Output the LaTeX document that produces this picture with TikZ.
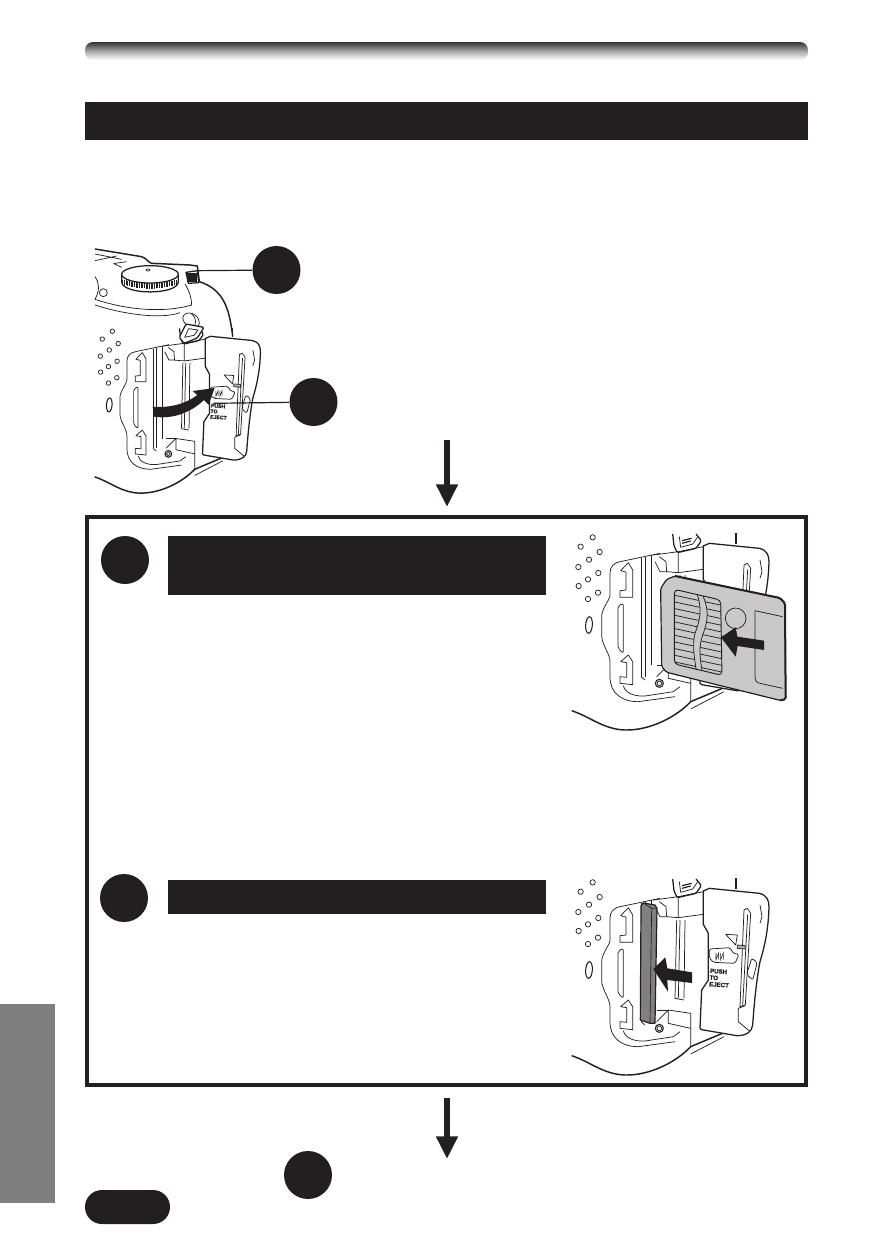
\documentclass[tikz,border=0pt]{standalone}
\usepackage{fontspec}
\setmainfont{Liberation Sans}
\usetikzlibrary{arrows.meta}
\definecolor{ink}{HTML}{231F20}
\definecolor{tabgrey}{HTML}{7F7E7E}
\definecolor{cardgrey}{HTML}{C9C9C9}
\definecolor{bargrey}{HTML}{808080}
\newfontfamily\ejectfont[FakeBold=1.6]{Liberation Sans Bold}
\tikzset{
  disc/.style={circle,fill=ink,draw=none,minimum size=36pt,inner sep=0pt},
  thin line/.style={draw=ink,line width=0.55pt,line join=round},
  body line/.style={draw=ink,line width=0.95pt,line join=round},
  leader/.style={draw=ink,line width=0.9pt},
  flow arrow/.style={draw=ink,line width=5.2pt,-{Triangle[length=17pt,width=15.5pt]}},
  ejecttext/.style={font=\ejectfont\fontsize{4.6}{5}\selectfont,align=left,inner sep=0pt,text=ink}
}
\newcommand{\cambase}{%
  % speaker dots
  \foreach \px/\py in {98/52,62/80,119/96,87/119,55/141,115/159,84/178,56/198,114/218,84/237}
    {\draw[thin line] (\px,\py) circle (8);}
  % oval
  \draw[thin line,line width=0.8pt,rotate around={-4:(87,315)}] (87,315) ellipse (10 and 25);
  % grip outer
  \draw[thin line] (300,100) -- (185,124) .. controls (160,128) and (150,140) .. (150,160) -- (150,225)
     .. controls (150,240) and (125,265) .. (125,290) -- (125,345) .. controls (125,375) and (150,400) .. (150,425)
     -- (150,470) .. controls (150,520) and (185,545) .. (235,545) -- (345,530);
  % inner bottom
  \draw[thin line] (190,497) .. controls (195,520) and (225,530) .. (255,528) -- (340,515) -- (360,500);
  % top notch
  \draw[thin line] (182,152) -- (205,128) -- (218,150) -- (218,232) -- (180,232) -- (180,212) -- (198,210) -- (198,156) -- cycle;
  % bottom notch
  \draw[thin line] (182,425) -- (205,405) -- (218,425) -- (218,494) -- (180,490) -- (180,470) -- (200,472) -- (200,428) -- cycle;
  % long capsule
  \draw[thin line,rounded corners=1.5pt] (174,258) -- (190,250) -- (190,400) -- (174,385) -- cycle;
  % slot lines
  \draw[thin line] (245,115) -- (245,470) (255,112) -- (255,470) (275,105) -- (275,435);
  \draw[thin line] (243,470) -- (255,480);
  % lug block
  \draw[thin line] (280,105) -- (355,95) -- (355,158) -- (320,155) -- (318,125) -- (298,110);
  \draw[thin line] (285,125) -- (300,155) -- (320,155);
  % right upper wall
  \draw[thin line] (355,95) -- (430,80) (355,158) -- (430,148);
  % rod
  \draw[thin line] (350,165) -- (345,400) (360,165) -- (355,400) (375,165) -- (372,400);
  \draw[thin line] (345,400) -- (372,405);
  % lower block
  \draw[thin line] (290,470) -- (325,435) -- (392,445) -- (392,545) (325,435) -- (325,475) -- (392,490);
  \draw[thin line] (325,435) -- (290,435);
  % screw
  \draw[thin line,line width=0.8pt] (298,490) circle (12);
  \draw[thin line] (298,490) circle (7);
  % strap lug
  \draw[body line,rounded corners=1pt] (338,42) -- (342,78) -- (352,98) -- (408,85) -- (424,62) -- (408,42);
  \draw[thin line] (358,50) -- (362,82) -- (398,72) -- (412,52);
  \draw[ink,line width=0.9pt] (366,62) -- (395,55) (366,70) -- (392,63);
  % camera outer bottom
  \draw[body line,line width=1.1pt] (35,572) .. controls (90,590) and (130,628) .. (195,630)
     .. controls (270,632) and (350,590) .. (392,545) -- (492,503);
  \draw[thin line] (392,567) -- (492,515);
  % right back line
  \draw[body line] (528,40) -- (528,72);
}
\newcommand{\camdoor}[1]{%
  \filldraw[fill=white,body line] (430,78) -- (448,70) -- (598,85) .. controls (620,90) and (627,105) .. (627,125)
     .. controls (625,200) and (612,250) .. (600,290) .. controls (590,340) and (582,420) .. (578,480)
     .. controls (576,500) and (560,512) .. (530,512) -- (425,494) -- (420,490) -- (425,375) -- (445,345)
     -- (445,205) -- (430,178) -- cycle;
  \draw[thin line] (600,120) -- (606,155) -- (600,175);
  % pin
  \draw[thin line] (552,135) -- (562,130) -- (572,145) -- (556,420) -- (540,425) -- cycle;
  \draw[thin line] (563,148) -- (548,422);
  % latch
  \filldraw[fill=white,thin line] (497,208) -- (532,210) -- (527,240) -- cycle;
  \filldraw[fill=bargrey!60,thin line] (532,240) -- (556,242) -- (556,252) -- (532,250) -- cycle;
  % label
  \filldraw[fill=white,thin line,rounded corners=1.2pt] (448,252) -- (510,248) -- (520,265) -- (537,268) -- (525,295) -- (460,292) -- (448,278) -- cycle;
  \draw[ink,line width=0.45pt] (468,264) -- (468,284) -- (476,264) -- (476,284) (482,264) -- (482,284) -- (490,264) -- (490,284);
  % lower hook
  \draw[thin line] (535,430) -- (535,470) -- (567,497) (535,430) -- (556,422);
  % side slot
  \draw[thin line,rounded corners=1.5pt] (575,280) -- (592,292) -- (578,345) -- (560,328) -- cycle;
  \node[ejecttext,rotate=-4,anchor=north west,scale=#1] (pushlabel) at (450,310) {PUSH\\TO\\EJECT};
}
\begin{document}
\begin{tikzpicture}[x=0.75pt,y=-0.75pt]
\useasboundingbox (0,0) rectangle (891,1257);
\fill[white] (0,0) rectangle (891,1257);
% header bars
\shade[top color=black!80,bottom color=white,middle color=black!35,rounded corners=6pt] (85,42) rectangle (808,60);
\fill[ink] (85,102) rectangle (808,140);
% side tab and pill
\fill[tabgrey] (0,1004) rectangle (55,1203);
\fill[ink,rounded corners=12.7pt] (85,1190) rectangle (170,1224);

% ---- first illustration
\begin{scope}[shift={(84.9,316.7)},scale=0.28]
  \cambase
  \camdoor{0.84}
\end{scope}
\begin{scope}[shift={(80,240)},scale=1/3]
  % top outline
  \draw[body line,line width=1.1pt] (45,27) -- (185,50) .. controls (200,55) and (205,68) .. (215,70) -- (330,75) -- (352,78)
     -- (358,125) .. controls (375,130) and (395,140) .. (410,155) .. controls (440,185) and (450,225) .. (458,288);
  \draw[thin line] (45,62) -- (110,48) (45,42) -- (125,58) (100,70) -- (125,82) (105,70) -- (140,65);
  \draw[thin line] (45,110) .. controls (58,130) and (60,150) .. (45,178);
  \draw[thin line] (70,158) circle (12);
  \draw[thin line] (45,178) .. controls (110,200) and (230,225) .. (335,195) .. controls (335,180) and (330,155) .. (315,132);
  \draw[thin line] (45,195) .. controls (120,220) and (240,240) .. (300,218);
  % dial
  \filldraw[fill=white,body line] (125,103) -- (125,128) .. controls (135,165) and (285,165) .. (295,128) -- (295,103) -- cycle;
  \foreach \kx in {128,133,...,292}
    {\draw[ink,line width=0.75pt] (\kx,{118+(1-((\kx-210)/85)*((\kx-210)/85))*12}) -- (\kx,{132+(1-((\kx-210)/85)*((\kx-210)/85))*14});}
  \filldraw[fill=white,body line] (210,103) ellipse (85 and 26);
  \draw[thin line] (204,90) ellipse (6 and 3);
  % side button
  \filldraw[fill=white,body line] (318,97) -- (352,92) -- (356,128) -- (325,130) -- cycle;
  \foreach \bx in {324,330,336,342,348}
    {\draw[ink,line width=0.9pt] (\bx,100) -- (\bx,126);}
  % strap ring and knob
  \filldraw[fill=white,thin line] (315,250) .. controls (295,225) and (325,210) .. (345,225) .. controls (365,240) and (360,262) .. (345,268) -- cycle;
  \draw[thin line] (335,222) .. controls (350,232) and (350,255) .. (338,265);
  \filldraw[fill=white,body line,rounded corners=1pt] (298,292) -- (318,252) -- (372,262) -- (352,294) -- (312,310) -- cycle;
  \draw[thin line] (314,292) -- (326,266) -- (354,270) -- (342,286) -- cycle;
  % curved arrow
  \fill[ink] (218,500) .. controls (270,505) and (320,490) .. (352,465) -- (338,453) -- (404,444) -- (386,494) -- (372,480)
     .. controls (330,520) and (275,538) .. (222,530) -- cycle;
  \coordinate (buttonpt) at (355,92);
  \coordinate (doorpt) at (400,490);
\end{scope}
\node[disc] (d1) at (276.5,270) {};
\node[disc] (d2) at (313.5,402) {};
\draw[leader] (buttonpt) -- (d1);
\draw[leader] (doorpt) -- (d2);

% ---- flow arrows
\coordinate (a1s) at (447,440);
\coordinate (a1e) at (447,507);
\draw[flow arrow] (a1s) -- (a1e);
\coordinate (a2s) at (447,1098);
\coordinate (a2e) at (447,1159);
\draw[flow arrow] (a2s) -- (a2e);

% ---- frame
\draw[draw=ink,line width=2.5pt] (87,517) rectangle (806,1085);
\node[disc] (d3) at (125,560) {};
\fill[ink] (168,536) rectangle (546,595);
\node[disc] (d4) at (124,898) {};
\fill[ink] (168,880) rectangle (546,914);
\node[disc] (d5) at (308,1175) {};

% ---- second illustration
\begin{scope}[shift={(560,520)},scale=1/3]
  \cambase
  \camdoor{1}
  % card
  \filldraw[fill=cardgrey,draw=ink,line width=0.9pt,line join=round,rounded corners=1.2pt] (302,205) -- (320,178) -- (345,168) -- (660,234) -- (675,250) -- (677,538) -- (660,541) -- (320,457) -- (305,440) -- cycle;
  \draw[ink,line width=1.5pt,line join=round,rounded corners=1.2pt] (345,168) -- (660,234) -- (675,250) -- (677,538) -- (660,541);
  \draw[thin line] (585,272) -- (668,290) (585,272) -- (585,470) .. controls (585,482) and (590,488) .. (600,490) -- (668,505);
  \draw[thin line] (527,295) circle (31);
  \begin{scope}
    \clip[rounded corners=3pt] (343,208) -- (482,240) -- (486,466) -- (343,432) -- cycle;
    \foreach \sy in {205,225,...,445}
      {\draw[thin line] (340,\sy) -- (490,{\sy+32});}
    \filldraw[fill=cardgrey,thin line] (405,205) .. controls (430,265) and (420,300) .. (405,340) .. controls (395,380) and (405,420) .. (410,460)
       -- (428,460) .. controls (420,420) and (415,380) .. (428,345) .. controls (445,300) and (450,265) .. (420,210) -- cycle;
  \end{scope}
  \draw[thin line,line width=0.7pt,rounded corners=3pt] (343,208) -- (482,240) -- (486,466) -- (343,432) -- cycle;
  \fill[ink] (612,362) -- (532,350) -- (527,322) -- (483,352) -- (527,410) -- (533,378) -- (612,390) -- cycle;
\end{scope}

% ---- third illustration
\begin{scope}[shift={(560,865)},scale=1/3]
  \cambase
  \camdoor{1}
  \filldraw[fill=bargrey,draw=ink,line width=0.9pt,line join=round] (243,122) -- (250,114) -- (285,120) -- (291,130) -- (285,475) -- (270,475) -- (241,465) -- cycle;
  \draw[ink,line width=0.5pt] (250,114) -- (275,130) -- (291,130) (275,130) -- (270,475);
  \fill[ink] (396,322) -- (322,310) -- (316,277) -- (280,312) -- (324,380) -- (322,345) -- (396,354) -- cycle;
\end{scope}
\end{tikzpicture}
\end{document}
